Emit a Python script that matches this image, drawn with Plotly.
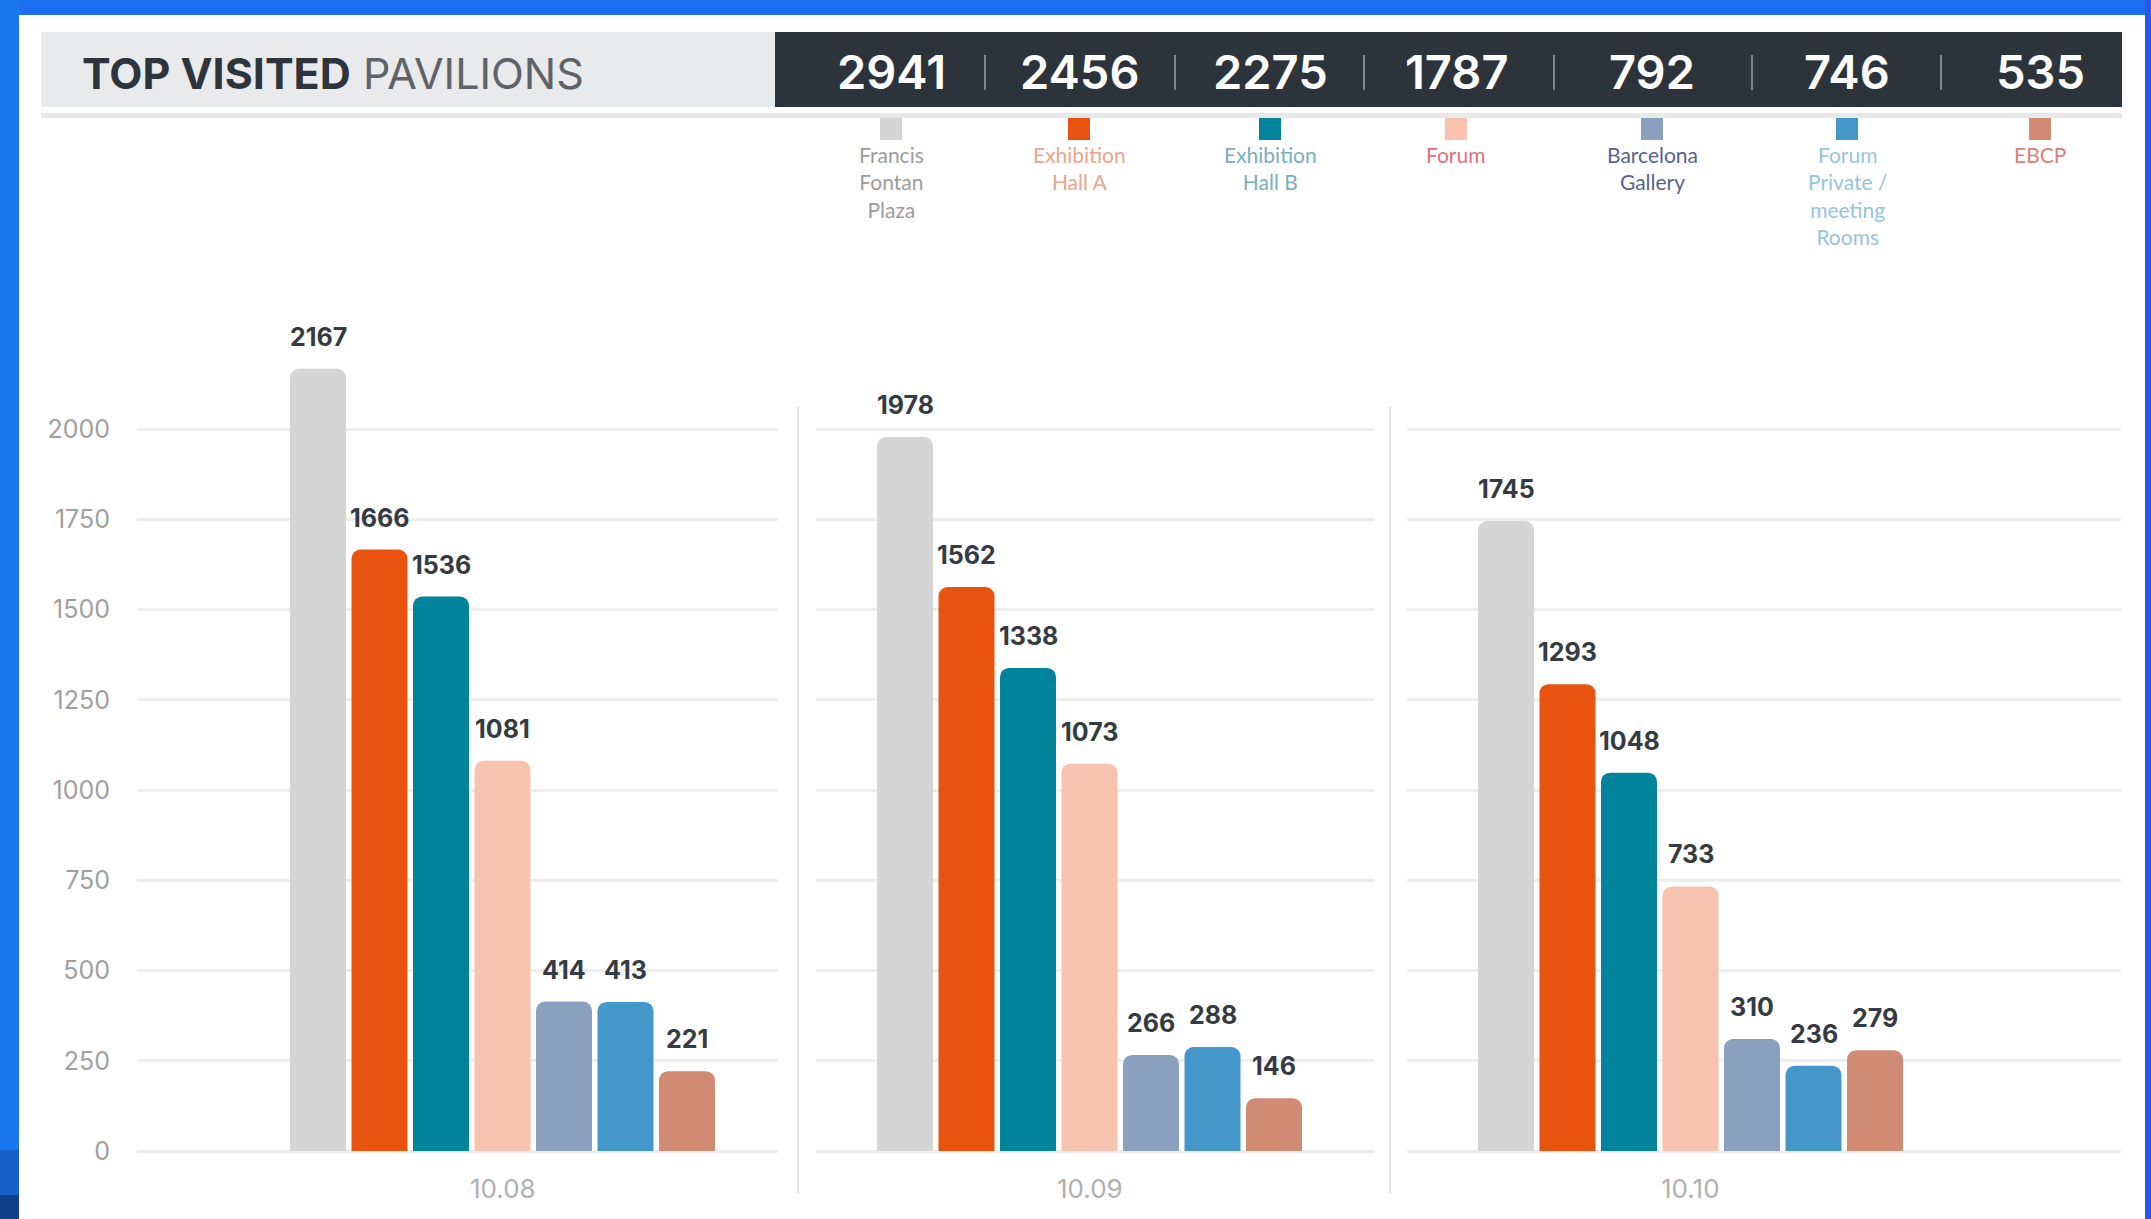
import plotly.graph_objects as go

# ---------------------------------------------------------------- data
SERIES = [
    "Francis Fontan Plaza",
    "Exhibition Hall A",
    "Exhibition Hall B",
    "Forum",
    "Barcelona Gallery",
    "Forum Private / meeting Rooms",
    "EBCP",
]
LEGEND_LABELS = [
    "Francis<br>Fontan<br>Plaza",
    "Exhibition<br>Hall A",
    "Exhibition<br>Hall B",
    "Forum",
    "Barcelona<br>Gallery",
    "Forum<br>Private /<br>meeting<br>Rooms",
    "EBCP",
]
TOTALS = [2941, 2456, 2275, 1787, 792, 746, 535]
DATES = ["10.08", "10.09", "10.10"]
VISITS_1008 = [2167, 1666, 1536, 1081, 414, 413, 221]
VISITS_1009 = [1978, 1562, 1338, 1073, 266, 288, 146]
VISITS_1010 = [1745, 1293, 1048, 733, 310, 236, 279]
Y_TICKS = [0, 250, 500, 750, 1000, 1250, 1500, 1750, 2000]

# ---------------------------------------------------------------- styles
BAR_COLORS = ["#d5d5d5", "#e8530f", "#00849b", "#f7c2ae",
              "#8ba0bf", "#4597c9", "#d18a73"]
LABEL_COLORS = ["#9c9c9c", "#f0a388", "#78aebd", "#e0707f",
                "#56638a", "#95c4de", "#d9827a"]
FONT = "Inter, 'Open Sans', sans-serif"
DARK = "#343b43"
GRID = "#eeeeee"

W, H = 2151, 1219


def fx(px):
    return px / W


def fy(py):
    return 1 - py / H


# vertical scale: value 0 sits at y=1151px, 2000 at y=429px
ZERO_PX = 1151
PX_PER_UNIT = (1151 - 429) / 2000
TOP_PX = 290
Y_MAX = (ZERO_PX - TOP_PX) / PX_PER_UNIT

# horizontal layout of the three day panels (grid extent, first bar centre)
BAR_PITCH = 61.5
BAR_WIDTH = 56
PANELS = [
    dict(x0=137, x1=778, first=318),
    dict(x0=816, x1=1374, first=905),
    dict(x0=1407, x1=2121, first=1506),
]
DAY_VALUES = [VISITS_1008, VISITS_1009, VISITS_1010]

fig = go.Figure()
layout = dict(
    width=W, height=H,
    margin=dict(l=0, r=0, t=0, b=0, autoexpand=False),
    paper_bgcolor="white", plot_bgcolor="rgba(0,0,0,0)",
    showlegend=False,
    bargap=1 - BAR_WIDTH / BAR_PITCH,
    barcornerradius=9,
    font=dict(family=FONT),
)

annotations = []
shapes = []

for i, (panel, values, day) in enumerate(zip(PANELS, DAY_VALUES, DATES)):
    n = "" if i == 0 else str(i + 1)
    xa, ya = "x" + n, "y" + n
    fig.add_trace(go.Bar(
        x=SERIES, y=values, xaxis=xa, yaxis=ya,
        marker=dict(color=BAR_COLORS, line=dict(width=0)),
        hoverinfo="x+y",
    ))
    left = -(panel["first"] - panel["x0"]) / BAR_PITCH
    right = (panel["x1"] - panel["first"]) / BAR_PITCH
    layout["xaxis" + n] = dict(
        domain=[fx(panel["x0"]), fx(panel["x1"])],
        type="category", categoryorder="array", categoryarray=SERIES,
        range=[left, right], showticklabels=False, showgrid=False,
        zeroline=False, showline=False, ticks="", anchor=ya, fixedrange=True,
        automargin=False,
    )
    layout["yaxis" + n] = dict(
        domain=[fy(ZERO_PX), fy(TOP_PX)], range=[0, Y_MAX],
        tickvals=Y_TICKS, showgrid=True, gridcolor=GRID, gridwidth=3,
        zeroline=True, zerolinecolor=GRID, zerolinewidth=3,
        showline=False, ticks="", anchor=xa, fixedrange=True,
        showticklabels=(i == 0), automargin=False,
        tickfont=dict(family=FONT, size=25, color="#a0a0a0"),
        ticklabelstandoff=26,
    )
    if i > 0:
        layout["yaxis" + n]["matches"] = "y"

    # value labels above each bar
    for name, v in zip(SERIES, values):
        annotations.append(dict(
            x=name, y=v, xref=xa, yref=ya, text=f"<b>{v}</b>",
            showarrow=False, yanchor="middle", yshift=32,
            font=dict(family=FONT, size=25, color=DARK),
        ))
    # day label under the group
    annotations.append(dict(
        x=SERIES[3], y=fy(1188), xref=xa, yref="paper", text=day,
        showarrow=False, yanchor="middle",
        font=dict(family=FONT, size=26, color="#b0b0b0"),
    ))

# separators between the day panels
for sx in (798, 1390):
    shapes.append(dict(type="line", xref="paper", yref="paper",
                       x0=fx(sx), x1=fx(sx), y0=fy(407), y1=fy(1193),
                       line=dict(color="#e2e2e2", width=2), layer="below"))

# ---------------------------------------------------------------- header
shapes += [
    dict(type="rect", xref="paper", yref="paper", x0=fx(41), x1=fx(775),
         y0=fy(107), y1=fy(32), fillcolor="#e9eaeb", line=dict(width=0)),
    dict(type="rect", xref="paper", yref="paper", x0=fx(775), x1=fx(2122),
         y0=fy(107), y1=fy(32), fillcolor="#2c333b", line=dict(width=0)),
    dict(type="rect", xref="paper", yref="paper", x0=fx(41), x1=fx(2122),
         y0=fy(118), y1=fy(113), fillcolor="#e8e8e8", line=dict(width=0)),
]
annotations.append(dict(
    x=fx(80), y=fy(73), xref="paper", yref="paper", xanchor="left",
    yanchor="middle", showarrow=False,
    text="<b>TOP VISITED</b> <span style='color:#5f6368'>PAVILIONS</span>",
    font=dict(family=FONT, size=43, color="#2e343b"),
))

HEADER_X = [891, 1079, 1270, 1456, 1652, 1847, 2040]
SEP_X = [985, 1175, 1364, 1554, 1752, 1941]
for cx, total, color, label, lcol in zip(HEADER_X, TOTALS, BAR_COLORS,
                                         LEGEND_LABELS, LABEL_COLORS):
    annotations.append(dict(
        x=fx(cx), y=fy(72), xref="paper", yref="paper", showarrow=False,
        xanchor="center", yanchor="middle", text=str(total),
        font=dict(family=FONT, size=47, color="white", weight=600),
    ))
    shapes.append(dict(type="rect", xref="paper", yref="paper",
                       x0=fx(cx - 11), x1=fx(cx + 11), y0=fy(140), y1=fy(118),
                       fillcolor=color, line=dict(width=0)))
    annotations.append(dict(
        x=fx(cx), y=fy(140), xref="paper", yref="paper", showarrow=False,
        xanchor="center", yanchor="top", align="center", text=label,
        font=dict(family="Lato, sans-serif", size=21, color=lcol),
    ))
for sx in SEP_X:
    shapes.append(dict(type="line", xref="paper", yref="paper",
                       x0=fx(sx), x1=fx(sx), y0=fy(90), y1=fy(55),
                       line=dict(color="#7d848c", width=2)))

# ---------------------------------------------------------------- frame
shapes += [
    dict(type="rect", xref="paper", yref="paper", x0=0, x1=1, y0=fy(15),
         y1=1, fillcolor="#1c6ff0", line=dict(width=0)),
    dict(type="rect", xref="paper", yref="paper", x0=0, x1=fx(19), y0=0,
         y1=1, fillcolor="#1877ee", line=dict(width=0)),
    dict(type="rect", xref="paper", yref="paper", x0=0, x1=fx(19), y0=0,
         y1=fy(1150), fillcolor="#1560c8", line=dict(width=0)),
    dict(type="rect", xref="paper", yref="paper", x0=0, x1=fx(19), y0=0,
         y1=fy(1195), fillcolor="#0f3f8a", line=dict(width=0)),
    dict(type="rect", xref="paper", yref="paper", x0=fx(2145), x1=1, y0=0,
         y1=1, fillcolor="#2b57e2", line=dict(width=0)),
]

layout["annotations"] = annotations
layout["shapes"] = shapes
fig.update_layout(**layout)
fig.write_html("out.html")
